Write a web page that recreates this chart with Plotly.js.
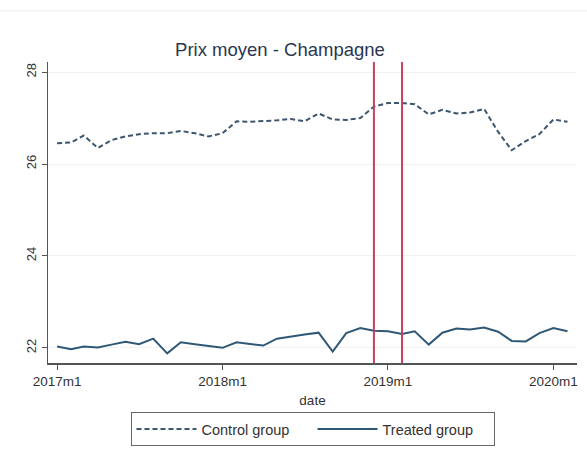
<!DOCTYPE html>
<html>
<head>
<meta charset="utf-8">
<script src="https://cdn.plot.ly/plotly-3.0.1.min.js"></script>
<style>html,body{margin:0;padding:0;background:#fff;}#chart{width:587px;height:450px;}</style>
</head>
<body>
<div id="chart"></div>
<script>
const months = ["2017-01","2017-02","2017-03","2017-04","2017-05","2017-06","2017-07","2017-08","2017-09","2017-10","2017-11","2017-12",
"2018-01","2018-02","2018-03","2018-04","2018-05","2018-06","2018-07","2018-08","2018-09","2018-10","2018-11","2018-12",
"2019-01","2019-02","2019-03","2019-04","2019-05","2019-06","2019-07","2019-08","2019-09","2019-10","2019-11","2019-12",
"2020-01","2020-02"];
const controlGroup = [26.45,26.47,26.62,26.35,26.52,26.6,26.65,26.67,26.67,26.72,26.67,26.6,
26.67,26.93,26.92,26.93,26.95,26.98,26.93,27.1,26.97,26.96,27.0,27.25,
27.33,27.33,27.3,27.08,27.18,27.1,27.12,27.2,26.7,26.3,26.5,26.65,
26.97,26.92];
const treatedGroup = [22.03,21.97,22.03,22.01,22.07,22.13,22.08,22.2,21.88,22.12,22.08,22.04,
22.0,22.12,22.09,22.05,22.2,22.25,22.29,22.33,21.92,22.32,22.43,22.37,
22.36,22.3,22.36,22.07,22.33,22.42,22.4,22.44,22.35,22.15,22.14,22.32,
22.43,22.36];
const xTickVals = ["2017-01-01","2018-01-01","2019-01-01","2020-01-01"];
const xTickText = ["2017m1","2018m1","2019m1","2020m1"];
const yTickVals = [22,24,26,28];
const eventMonths = ["2018-12-01","2019-02-01"];

const traces = [
  {x: months, y: controlGroup, name: "Control group", type: "scatter", mode: "lines",
   line: {color: "#3b566e", width: 2, dash: "5px,3px"}},
  {x: months, y: treatedGroup, name: "Treated group", type: "scatter", mode: "lines",
   line: {color: "#2f5876", width: 2}}
];
const shapes = eventMonths.map(m => ({
  type: "line", xref: "x", yref: "paper", x0: m, x1: m, y0: 0, y1: 1,
  line: {color: "#c8415a", width: 2}
}));
shapes.push({type:"line", xref:"paper", yref:"paper", x0:-0.1, x1:1.05, y0:1.17, y1:1.17, line:{color:"#eeeeee", width:1}});
const layout = {
  width: 587, height: 450,
  margin: {l: 48, r: 10, t: 62, b: 87, autoexpand: false},
  paper_bgcolor: "#ffffff", plot_bgcolor: "#ffffff",
  font: {family: "Liberation Sans, Arial, sans-serif", color: "#333333", size: 12},
  title: {text: "Prix moyen - Champagne", x: 0.477, xanchor: "center", y: 0.89, yanchor: "middle",
          font: {size: 18.5, color: "#2b3650"}},
  xaxis: {type: "date", range: ["2016-12-12","2020-02-22"], tickvals: xTickVals, ticktext: xTickText,
          ticks: "outside", ticklen: 5, tickcolor: "#555", showline: true, linecolor: "#555", linewidth: 1.5,
          showgrid: false, zeroline: false, tickfont: {size: 13.5, color: "#333"},
          title: {text: "date", font: {size: 13.5, color: "#333"}, standoff: 8}},
  yaxis: {range: [21.67, 28.22], tickvals: yTickVals, tickangle: -90,
          ticks: "outside", ticklen: 5, tickcolor: "#555", showline: true, linecolor: "#555", linewidth: 1.5,
          showgrid: true, gridcolor: "#f2f2f2", zeroline: false, tickfont: {size: 13, color: "#333"}},
  legend: {orientation: "h", x: 0.5, xanchor: "center", y: -0.163, yanchor: "top",
           bordercolor: "#666", borderwidth: 1, font: {size: 14.5, color: "#333"},
           itemwidth: 60, entrywidth: 106, tracegroupgap: 0},
  shapes: shapes,
  showlegend: true
};
Plotly.newPlot("chart", traces, layout, {displayModeBar: false, staticPlot: true});
</script>
</body>
</html>
